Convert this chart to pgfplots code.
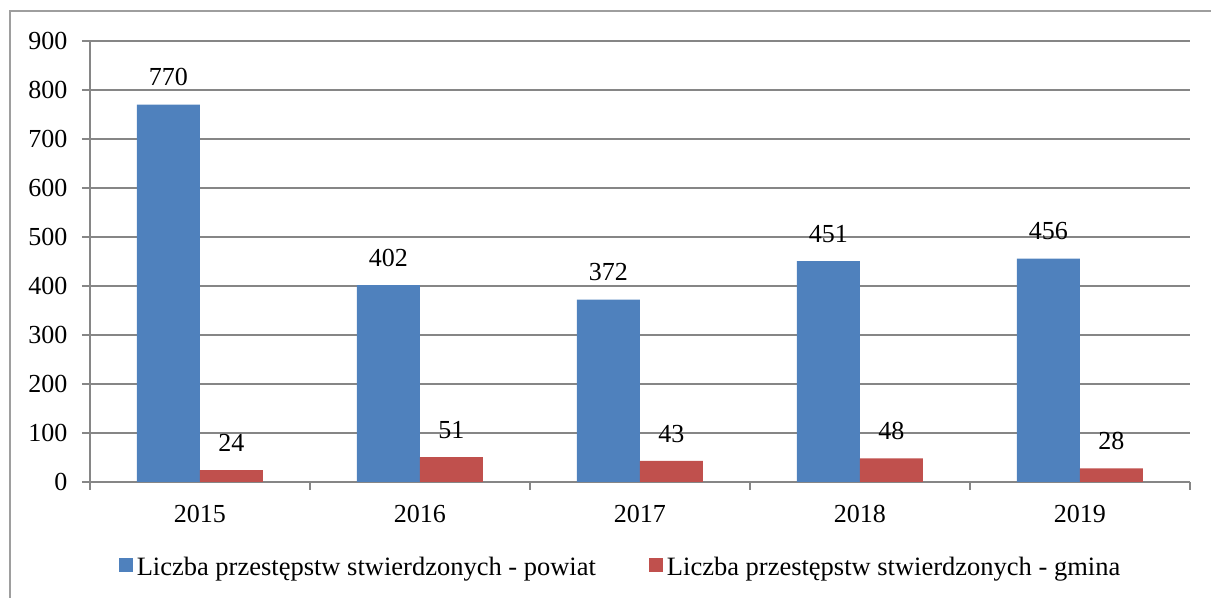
\documentclass[border=0pt]{standalone}
\usepackage{fontspec}
\setmainfont{Liberation Serif}
\usepackage{pgfplots}
\pgfplotsset{compat=1.18}
\usetikzlibrary{calc}
\definecolor{cblue}{RGB}{79,129,189}
\definecolor{cred}{RGB}{192,80,77}
\definecolor{cgrid}{RGB}{134,134,134}
\newcommand{\cf}{\fontsize{26bp}{30bp}\selectfont}
\newcommand{\lf}{\fontsize{26.5bp}{30bp}\selectfont}
\begin{document}
\begin{tikzpicture}[x=1bp,y=1bp]
\begin{axis}[
  scale only axis, width=1100bp, height=441bp,
  /pgf/number format/assume math mode=true,
  ybar=0pt, bar width=63bp,
  ymin=0, ymax=900, ytick={0,100,...,900},
  xmin=-0.5, xmax=4.5,
  xtick={-0.5,0.5,...,4.5}, xticklabels={},
  extra x ticks={0,1,2,3,4},
  extra x tick labels={2015,2016,2017,2018,2019},
  extra x tick style={major tick length=0pt, grid=none},
  axis x line*=bottom, axis y line*=left,
  tick align=outside, major tick length=8bp,
  ymajorgrids,
  grid style={cgrid, line width=2bp},
  axis line style={cgrid, line width=2bp},
  tick style={cgrid, line width=2bp},
  tick label style={font=\cf, text=black},
  yticklabel style={xshift=-11bp},
  xticklabel style={yshift=-20bp},
  nodes near coords,
  every node near coord/.append style={font=\cf, text=black, yshift=15bp},
  legend columns=2,
  legend style={draw=none, fill=none, font=\lf, at={(0.4814,-0.193)}, anchor=center,
    nodes={inner sep=0pt},
    /tikz/column sep=4bp,
    /tikz/every even column/.append style={column sep=53bp}},
  legend image code/.code={\fill[#1] (0bp,-5bp) rectangle (14bp,9bp);},
]
\coordinate (O) at (rel axis cs:0,0);
\addplot[fill=cblue, draw=none] coordinates {(0,770) (1,402) (2,372) (3,451) (4,456)};
\addlegendentry{Liczba przestępstw stwierdzonych - powiat}
\addplot[fill=cred, draw=none] coordinates {(0,24) (1,51) (2,43) (3,48) (4,28)};
\addlegendentry{Liczba przestępstw stwierdzonych - gmina}
\end{axis}
\pgfresetboundingbox
\path[use as bounding box] ($(O)+(-90,-116)$) rectangle ($(O)+(1121,482)$);
\draw[cgrid!80, line width=2bp] ($(O)+(-80,-117)$) -- ($(O)+(-80,471)$) -- ($(O)+(1122,471)$);
\end{tikzpicture}
\end{document}
